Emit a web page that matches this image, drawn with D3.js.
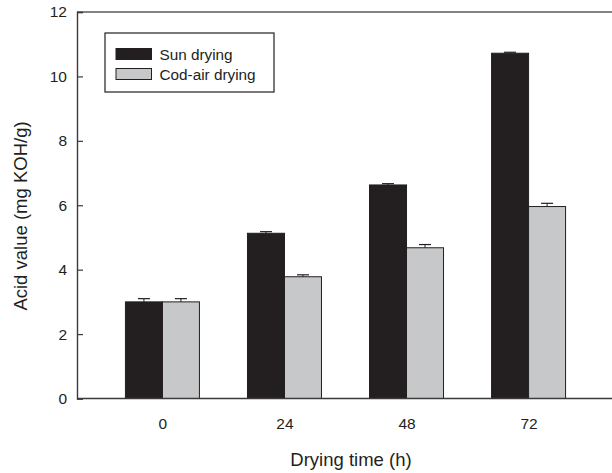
<!DOCTYPE html>
<html>
<head>
<meta charset="utf-8">
<script src="https://cdn.jsdelivr.net/npm/d3@7/dist/d3.min.js"></script>
<style>
  html, body { margin: 0; padding: 0; background: #fff; }
  text { font-family: "Liberation Sans", Arial, sans-serif; fill: #231f20; }
</style>
</head>
<body>
<svg id="chart" width="612" height="473"></svg>
<script>
// ---- data ----
const categories = ["0", "24", "48", "72"];
const seriesNames = ["Sun drying", "Cod-air drying"];
const sunValues = [3.0, 5.13, 6.63, 10.72];
const sunErrors = [0.1, 0.05, 0.04, 0.03];
const codValues = [3.0, 3.78, 4.68, 5.96];
const codErrors = [0.1, 0.06, 0.1, 0.1];
const yTicks = [0, 2, 4, 6, 8, 10, 12];

const colors = ["#231f20", "#c7c8ca"];
const svg = d3.select("#chart");

const mLeft = 77, mRight = 614, mTop = 12, mBottom = 398.5;

const x = d3.scalePoint().domain(categories).range([mLeft, mRight]).padding(0.7);
const xs = d3.scaleBand().domain(seriesNames).range([-37, 37]);
const y = d3.scaleLinear().domain([0, 12]).range([mBottom, mTop]);

const series = [
  { name: seriesNames[0], values: sunValues, errors: sunErrors, color: colors[0] },
  { name: seriesNames[1], values: codValues, errors: codErrors, color: colors[1] }
];

// bars
series.forEach(s => {
  const g = svg.append("g");
  g.selectAll("rect").data(categories).join("rect")
    .attr("x", (c) => x(c) + xs(s.name))
    .attr("y", (c, i) => y(s.values[i]))
    .attr("width", xs.bandwidth())
    .attr("height", (c, i) => y(0) - y(s.values[i]))
    .attr("fill", s.color)
    .attr("stroke", "#231f20")
    .attr("stroke-width", 1);
  // error bars (upper only)
  g.selectAll("line.err").data(categories).join("line")
    .attr("class", "err")
    .attr("x1", c => x(c) + xs(s.name) + xs.bandwidth() / 2)
    .attr("x2", c => x(c) + xs(s.name) + xs.bandwidth() / 2)
    .attr("y1", (c, i) => y(s.values[i]))
    .attr("y2", (c, i) => y(s.values[i] + s.errors[i]))
    .attr("stroke", "#231f20").attr("stroke-width", 1);
  g.selectAll("line.cap").data(categories).join("line")
    .attr("class", "cap")
    .attr("x1", c => x(c) + xs(s.name) + xs.bandwidth() / 2 - 6)
    .attr("x2", c => x(c) + xs(s.name) + xs.bandwidth() / 2 + 6)
    .attr("y1", (c, i) => y(s.values[i] + s.errors[i]))
    .attr("y2", (c, i) => y(s.values[i] + s.errors[i]))
    .attr("stroke", "#231f20").attr("stroke-width", 1.2);
});

// frame: top line
svg.append("line")
  .attr("x1", mLeft).attr("x2", mRight).attr("y1", mTop).attr("y2", mTop)
  .attr("stroke", "#5a5a5a").attr("stroke-width", 1.4);

// y axis (ticks inward)
const yAxis = d3.axisRight(y).tickValues(yTicks).tickSize(6).tickFormat(d3.format("d"));
const gy = svg.append("g").attr("transform", `translate(${mLeft},0)`).call(yAxis);
gy.select(".domain").attr("stroke", "#3a3a3a").attr("stroke-width", 1.4);
gy.selectAll(".tick line").attr("stroke", "#3a3a3a").attr("stroke-width", 1.2);
gy.selectAll(".tick text")
  .attr("x", -10).attr("text-anchor", "end")
  .style("font-family", '"Liberation Sans", Arial, sans-serif')
  .style("font-size", "15.5px").attr("fill", "#231f20");

// x axis
const xAxis = d3.axisBottom(x).tickSize(0).tickPadding(19);
const gx = svg.append("g").attr("transform", `translate(0,${mBottom})`).call(xAxis);
gx.select(".domain").attr("d", `M${mLeft},0H${mRight}`).attr("stroke", "#3a3a3a").attr("stroke-width", 1.4);
gx.selectAll(".tick text")
  .style("font-family", '"Liberation Sans", Arial, sans-serif')
  .style("font-size", "15.5px").attr("fill", "#231f20");

// axis titles
svg.append("text")
  .attr("x", 351).attr("y", 466)
  .attr("text-anchor", "middle")
  .style("font-size", "18.5px")
  .text("Drying time (h)");

svg.append("text")
  .attr("transform", "translate(27,216) rotate(-90)")
  .attr("text-anchor", "middle")
  .style("font-size", "18.5px")
  .text("Acid value (mg KOH/g)");

// legend
const lg = svg.append("g");
lg.append("rect")
  .attr("x", 105).attr("y", 33).attr("width", 169).attr("height", 59)
  .attr("fill", "#fff").attr("stroke", "#231f20").attr("stroke-width", 1.2);
series.forEach((s, i) => {
  lg.append("rect")
    .attr("x", 116).attr("y", 48.5 + i * 20).attr("width", 35.5).attr("height", 11)
    .attr("fill", s.color).attr("stroke", "#231f20").attr("stroke-width", 1);
  lg.append("text")
    .attr("x", 159.5).attr("y", 59.8 + i * 20)
    .style("font-size", "15.3px")
    .text(s.name);
});
</script>
</body>
</html>
